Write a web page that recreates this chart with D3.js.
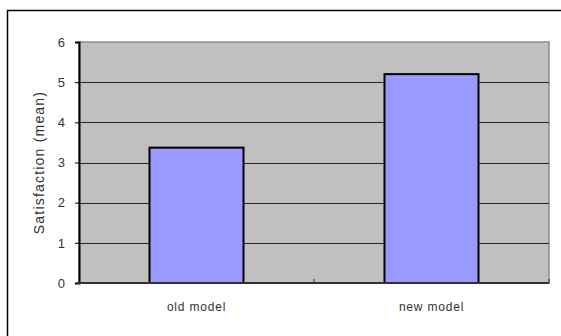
<!DOCTYPE html>
<html>
<head>
<meta charset="utf-8">
<script src="https://cdn.jsdelivr.net/npm/d3@7"></script>
<style>
  body { margin: 0; background: #fff; }
  text { font-family: "Liberation Sans", Arial, sans-serif; fill: #333; }
</style>
</head>
<body>
<div id="chart"></div>
<script>
// data
var categories = ["old model", "new model"];
var means = [3.37, 5.2];
var yTicks = [0, 1, 2, 3, 4, 5, 6];

var svgWidth = 561;
var svgHeight = 336;

var margin = { top: 42, right: 12, bottom: 53, left: 79 };
var width = 549 - margin.left;
var height = 283 - margin.top;

var svg = d3.select("#chart")
  .append("svg")
  .attr("width", svgWidth)
  .attr("height", svgHeight);

// outer chart frame (runs off the right and bottom edge)
svg.append("rect")
  .attr("x", 7.5)
  .attr("y", 10.5)
  .attr("width", 570)
  .attr("height", 340)
  .attr("fill", "none")
  .attr("stroke", "#000")
  .attr("stroke-width", 1.5);

var chartGroup = svg.append("g")
  .attr("transform", `translate(${margin.left}, ${margin.top})`);

var xScale = d3.scaleBand()
  .domain(categories)
  .range([0, width])
  .paddingInner(0.6)
  .paddingOuter(0.3);

var yScale = d3.scaleLinear()
  .domain([0, 6])
  .range([height, 0]);

// plot background
chartGroup.append("rect")
  .attr("width", width)
  .attr("height", height)
  .attr("fill", "#c0c0c0")
  .attr("stroke", "#8c8c8c")
  .attr("stroke-width", 1.5);

// gridlines
chartGroup.selectAll(".grid")
  .data(yTicks.filter(d => d > 0 && d < 6))
  .enter()
  .append("line")
  .attr("x1", 0)
  .attr("x2", width)
  .attr("y1", d => Math.round(yScale(d)) + 0.5)
  .attr("y2", d => Math.round(yScale(d)) + 0.5)
  .attr("stroke", "#222")
  .attr("stroke-width", 1);

// bars
chartGroup.selectAll(".bar")
  .data(means)
  .enter()
  .append("rect")
  .attr("x", (d, i) => xScale(categories[i]))
  .attr("y", d => yScale(d))
  .attr("width", xScale.bandwidth())
  .attr("height", d => height - yScale(d))
  .attr("fill", "#9999ff")
  .attr("stroke", "#000")
  .attr("stroke-width", 2);

// y axis
var leftAxis = d3.axisLeft(yScale)
  .tickValues(yTicks)
  .tickFormat(d3.format("d"))
  .tickSize(4)
  .tickPadding(10);

var yAxis = chartGroup.append("g")
  .call(leftAxis);
yAxis.select(".domain").attr("stroke", "#000").attr("stroke-width", 2);
yAxis.selectAll(".tick line").attr("stroke", "#000");
yAxis.selectAll("text")
  .style("font-size", "13px")
  .attr("fill", "#444");

// x axis
var xAxis = chartGroup.append("g")
  .attr("transform", `translate(0, ${height})`);
xAxis.append("line")
  .attr("x1", -2)
  .attr("x2", width)
  .attr("stroke", "#333")
  .attr("stroke-width", 2);
// category separator ticks
xAxis.selectAll(".sep")
  .data([width / 2, width])
  .enter()
  .append("line")
  .attr("x1", d => d)
  .attr("x2", d => d)
  .attr("y1", -4)
  .attr("y2", 0)
  .attr("stroke", "#333");

xAxis.selectAll(".cat")
  .data(categories)
  .enter()
  .append("text")
  .attr("x", d => xScale(d) + xScale.bandwidth() / 2)
  .attr("y", 28)
  .attr("text-anchor", "middle")
  .style("font-size", "12px")
  .style("letter-spacing", "0.8px")
  .attr("fill", "#444")
  .text(d => d);

// y axis label
chartGroup.append("text")
  .attr("transform", `translate(-35, ${height / 2}) rotate(-90)`)
  .attr("text-anchor", "middle")
  .style("font-size", "14px")
  .style("letter-spacing", "1.2px")
  .attr("fill", "#444")
  .text("Satisfaction (mean)");
</script>
</body>
</html>
